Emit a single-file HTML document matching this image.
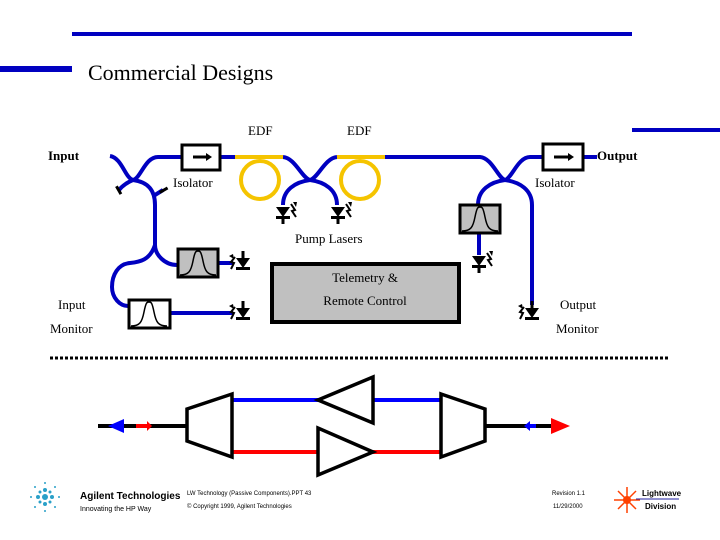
<!DOCTYPE html>
<html><head><meta charset="utf-8"><style>
html,body{margin:0;padding:0;background:#fff}
svg{display:block}
.t{font-family:"Liberation Serif",serif;fill:#000}
.s{font-family:"Liberation Sans",sans-serif;fill:#000}
</style></head><body>
<svg width="720" height="540" viewBox="0 0 720 540" xmlns="http://www.w3.org/2000/svg">
<defs>
<g id="pd">
<polygon points="-7,-5 7,-5 0,5" fill="#000"/>
<rect x="-7" y="4" width="14" height="3" fill="#000"/>
<rect x="-1.5" y="5" width="3" height="7" fill="#000"/>
<path d="M8,-8 L12,-2 L9,-1 L13,5" stroke="#000" stroke-width="2" fill="none"/>
<polygon points="10,-10 14,-10 13,-5" fill="#000"/>
</g>
<g id="pdl">
<polygon points="-7,-5 7,-5 0,5" fill="#000"/>
<rect x="-7" y="4" width="14" height="3" fill="#000"/>
<rect x="-1.5" y="-12" width="3" height="8" fill="#000"/>
<path d="M-8,-6 L-12,-1 L-9,0 L-12,6" stroke="#000" stroke-width="2" fill="none"/>
<polygon points="-14,-7 -10,-9 -9,-4" fill="#000"/>
</g>
<g id="filt">
<path d="M3,26 C12,26 14,22 16,12 C18,2 19,2 21,2 C23,2 24,2 26,12 C28,22 30,26 39,26" stroke="#000" stroke-width="1.5" fill="none"/>
</g>
</defs>

<rect x="72" y="32" width="560" height="4" fill="#0000c0"/>
<rect x="0" y="66" width="72" height="6" fill="#0000c0"/>
<rect x="632" y="128" width="88" height="4" fill="#0000c0"/>
<text x="88" y="80" class="t" font-size="22">Commercial Designs</text>

<text x="248" y="135" class="t" font-size="13">EDF</text>
<text x="347" y="135" class="t" font-size="13">EDF</text>
<text x="48" y="160" class="t" font-size="13" font-weight="bold">Input</text>
<text x="597" y="160" class="t" font-size="13" font-weight="bold">Output</text>
<text x="173" y="187" class="t" font-size="13">Isolator</text>
<text x="535" y="187" class="t" font-size="13">Isolator</text>
<text x="295" y="243" class="t" font-size="13">Pump Lasers</text>
<text x="58" y="309" class="t" font-size="13">Input</text>
<text x="50" y="333" class="t" font-size="13">Monitor</text>
<text x="560" y="309" class="t" font-size="13">Output</text>
<text x="556" y="333" class="t" font-size="13">Monitor</text>

<g stroke="#0000c0" stroke-width="4" fill="none" stroke-linecap="butt">
<path d="M110,156 C122,158 125,178 133,180 C141,178 145,157 158,157 L182,157"/>
<path d="M133,180 C128,182 122,186 119,190"/>
<path d="M133,180 C148,182 155,190 155,205 L155,245"/>
<path d="M155,195 L163,190"/>
<path d="M155,245 C155,255 165,265 177,265"/>
<path d="M155,245 C150,260 140,262 130,263 C118,264 112,275 112,287 C112,298 120,306 128,306"/>
<path d="M218,263 L233,263"/>
<path d="M170,313 L233,313"/>
<path d="M220,157 L235,157"/>
<path d="M283,157 C295,158 302,178 310,180 C318,178 325,158 337,157"/>
<path d="M310,180 C295,182 283,190 283,205"/>
<path d="M310,180 C325,182 337,190 337,205"/>
<path d="M385,157 L480,157 C492,158 498,178 505,180 C512,178 518,157 530,157 L543,157"/>
<path d="M583,157 L597,157"/>
<path d="M505,180 C490,182 478,190 478,205"/>
<path d="M505,180 C520,182 532,190 532,205 L532,305"/>
<path d="M479,233 L479,255"/>
</g>
<rect x="114" y="188" width="9" height="3" transform="rotate(60 118 190)" fill="#000"/>
<rect x="159" y="189" width="9" height="3" transform="rotate(-30 163 190)" fill="#000"/>

<g stroke="#f5c400" stroke-width="4" fill="none">
<path d="M235,157 L283,157"/>
<circle cx="260" cy="180" r="19"/>
<path d="M337,157 L385,157"/>
<circle cx="360" cy="180" r="19"/>
</g>

<rect x="182" y="145" width="38" height="25" fill="#fff" stroke="#000" stroke-width="3"/>
<path d="M193,157 L207,157" stroke="#000" stroke-width="3"/><polygon points="206,153 212,157 206,161" fill="#000"/>
<rect x="543" y="144" width="40" height="26" fill="#fff" stroke="#000" stroke-width="3"/>
<path d="M554,157 L569,157" stroke="#000" stroke-width="3"/><polygon points="568,153 574,157 568,161" fill="#000"/>

<rect x="178" y="249" width="40" height="28" fill="#c0c0c0" stroke="#000" stroke-width="3"/>
<use href="#filt" x="177" y="249"/>
<rect x="129" y="300" width="41" height="28" fill="#fff" stroke="#000" stroke-width="3"/>
<use href="#filt" x="128" y="300"/>
<rect x="460" y="205" width="40" height="28" fill="#c0c0c0" stroke="#000" stroke-width="3"/>
<use href="#filt" x="459" y="205"/>

<use href="#pd" x="283" y="212"/>
<use href="#pd" x="338" y="212"/>
<use href="#pd" x="479" y="261"/>
<use href="#pdl" x="243" y="263"/>
<use href="#pdl" x="243" y="313"/>
<use href="#pdl" x="532" y="313"/>

<rect x="272" y="264" width="187" height="58" fill="#c0c0c0" stroke="#000" stroke-width="4"/>
<text x="365" y="282" class="t" font-size="13" text-anchor="middle">Telemetry &amp;</text>
<text x="365" y="305" class="t" font-size="13" text-anchor="middle">Remote Control</text>

<line x1="50" y1="358" x2="670" y2="358" stroke="#000" stroke-width="3" stroke-dasharray="3,2"/>

<line x1="98" y1="426" x2="188" y2="426" stroke="#000" stroke-width="4"/>
<polygon points="108,426 124,419 124,433" fill="#0000ff"/>
<rect x="136" y="424" width="12" height="4" fill="#ff0000"/><polygon points="147,421 152,426 147,431" fill="#ff0000"/>
<line x1="485" y1="426" x2="555" y2="426" stroke="#000" stroke-width="4"/>
<rect x="528" y="424" width="8" height="4" fill="#0000ff"/><polygon points="530,421 524,426 530,431" fill="#0000ff"/>
<polygon points="551,418 570,426 551,434" fill="#ff0000"/>
<line x1="233" y1="400" x2="320" y2="400" stroke="#0000ff" stroke-width="4"/>
<line x1="373" y1="400" x2="440" y2="400" stroke="#0000ff" stroke-width="4"/>
<line x1="233" y1="452" x2="320" y2="452" stroke="#ff0000" stroke-width="4"/>
<line x1="371" y1="452" x2="440" y2="452" stroke="#ff0000" stroke-width="4"/>
<g fill="#fff" stroke="#000" stroke-width="3.5" stroke-linejoin="miter">
<polygon points="187,409 232,394 232,457 187,441"/>
<polygon points="441,394 485,409 485,441 441,457"/>
<polygon points="318,400 373,377 373,423"/>
<polygon points="318,428 318,475 373,452"/>
</g>

<g fill="#2aa0c8">
<circle cx="45" cy="497" r="3"/><circle cx="38" cy="497" r="2"/><circle cx="52" cy="497" r="2"/>
<circle cx="45" cy="490" r="2"/><circle cx="45" cy="504" r="2"/>
<circle cx="40" cy="492" r="1.5"/><circle cx="50" cy="492" r="1.5"/><circle cx="40" cy="502" r="1.5"/><circle cx="50" cy="502" r="1.5"/>
<circle cx="31" cy="497" r="1"/><circle cx="59" cy="497" r="1"/><circle cx="45" cy="483" r="1"/><circle cx="45" cy="511" r="1"/>
<circle cx="35" cy="487" r="1"/><circle cx="55" cy="487" r="1"/><circle cx="35" cy="507" r="1"/><circle cx="55" cy="507" r="1"/>
</g>
<text x="80" y="499" class="s" font-size="10" font-weight="bold" fill="#333">Agilent Technologies</text>
<text x="80" y="511" class="s" font-size="7" fill="#555">Innovating the HP Way</text>
<text x="187" y="495" class="s" font-size="6">LW Technology (Passive Components).PPT   43</text>
<text x="187" y="508" class="s" font-size="6">© Copyright 1999, Agilent Technologies</text>
<text x="552" y="495" class="s" font-size="6">Revision 1.1</text>
<text x="553" y="508" class="s" font-size="6">11/29/2000</text>
<g stroke="#ff4000" stroke-width="1.5">
<line x1="614" y1="500" x2="640" y2="500"/><line x1="627" y1="487" x2="627" y2="513"/>
<line x1="618" y1="491" x2="636" y2="509"/><line x1="636" y1="491" x2="618" y2="509"/>
</g>
<circle cx="627" cy="500" r="4" fill="#ff4000"/>
<line x1="636" y1="499" x2="679" y2="499" stroke="#2020a0" stroke-width="1"/>
<text x="642" y="496" class="s" font-size="8" font-weight="bold" fill="#202080">Lightwave</text>
<text x="645" y="509" class="s" font-size="8" font-weight="bold" fill="#202080">Division</text>
</svg>
</body></html>
